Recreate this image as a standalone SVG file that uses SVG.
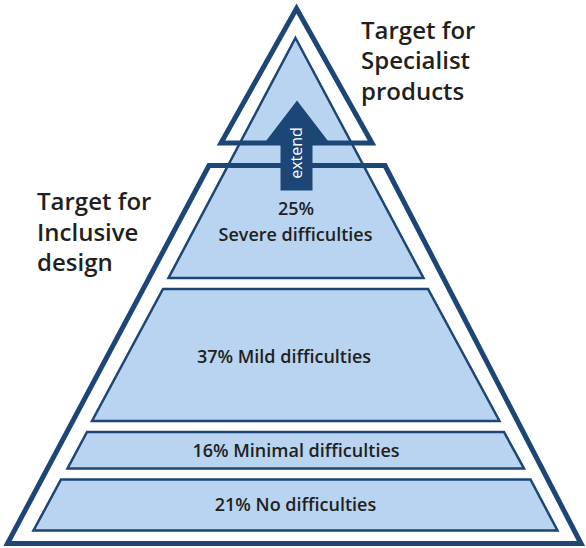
<svg xmlns="http://www.w3.org/2000/svg" width="586" height="548" viewBox="0 0 586 548">
  <style>
    .thick { fill: none; stroke: #1b4676; stroke-width: 5; stroke-linejoin: miter; stroke-miterlimit: 10; }
    .tier { fill: #b8d4f1; stroke: #1b4676; stroke-width: 2.5; stroke-linejoin: miter; stroke-miterlimit: 10; }
    .lbl { font-family: "Open Sans", "Noto Sans", "Liberation Sans", sans-serif; font-weight: 600; fill: #231f20; }
    .tierlbl { font-size: 18px; text-anchor: middle; }
    .target { font-size: 24px; }
    .ext { font-family: "Open Sans", "Noto Sans", "Liberation Sans", sans-serif; font-size: 16px; fill: #ffffff; text-anchor: middle; }
  </style>
  <rect width="586" height="548" fill="#ffffff"/>

  <g id="tier-severe">
    <polygon class="tier" points="295.5,38 423.5,278 168.5,278"/>
  </g>
  <g id="tier-mild">
    <polygon class="tier" points="163,289 428,289 499.5,421 92,421"/>
    <text class="lbl tierlbl" x="284" y="362.5">37% Mild difficulties</text>
  </g>
  <g id="tier-minimal">
    <polygon class="tier" points="87,432 504,432 524,468.5 67.5,468.5"/>
    <text class="lbl tierlbl" x="296" y="457">16% Minimal difficulties</text>
  </g>
  <g id="tier-none">
    <polygon class="tier" points="61,479.5 530.5,479.5 557.5,530.5 33.5,530.5"/>
    <text class="lbl tierlbl" x="295.5" y="511">21% No difficulties</text>
  </g>

  <g id="specialist-target">
    <polygon class="thick" points="296.5,8.5 372,143 221,143"/>
  </g>
  <g id="inclusive-target">
    <polygon class="thick" points="209,165.5 385,165.5 581,543.5 7.5,543.5"/>
  </g>

  <g id="connectors">
    <polygon fill="#1b4676" points="297,100.5 328,141 312.5,141 312.5,190.5 280.5,190.5 280.5,141 266,141"/>
    <text class="ext" transform="translate(301.5,153) rotate(-90)">extend</text>
  </g>

  <g id="severe-label">
    <text class="lbl tierlbl" x="296" y="215">25%</text>
    <text class="lbl tierlbl" x="295.5" y="240.5">Severe difficulties</text>
  </g>

  <g id="label-inclusive">
    <text class="lbl target" x="37" y="209.5">Target for</text>
    <text class="lbl target" x="37" y="240.5">Inclusive</text>
    <text class="lbl target" x="37" y="271">design</text>
  </g>
  <g id="label-specialist">
    <text class="lbl target" x="361" y="38.5">Target for</text>
    <text class="lbl target" x="361" y="69">Specialist</text>
    <text class="lbl target" x="361" y="99.5">products</text>
  </g>
</svg>
